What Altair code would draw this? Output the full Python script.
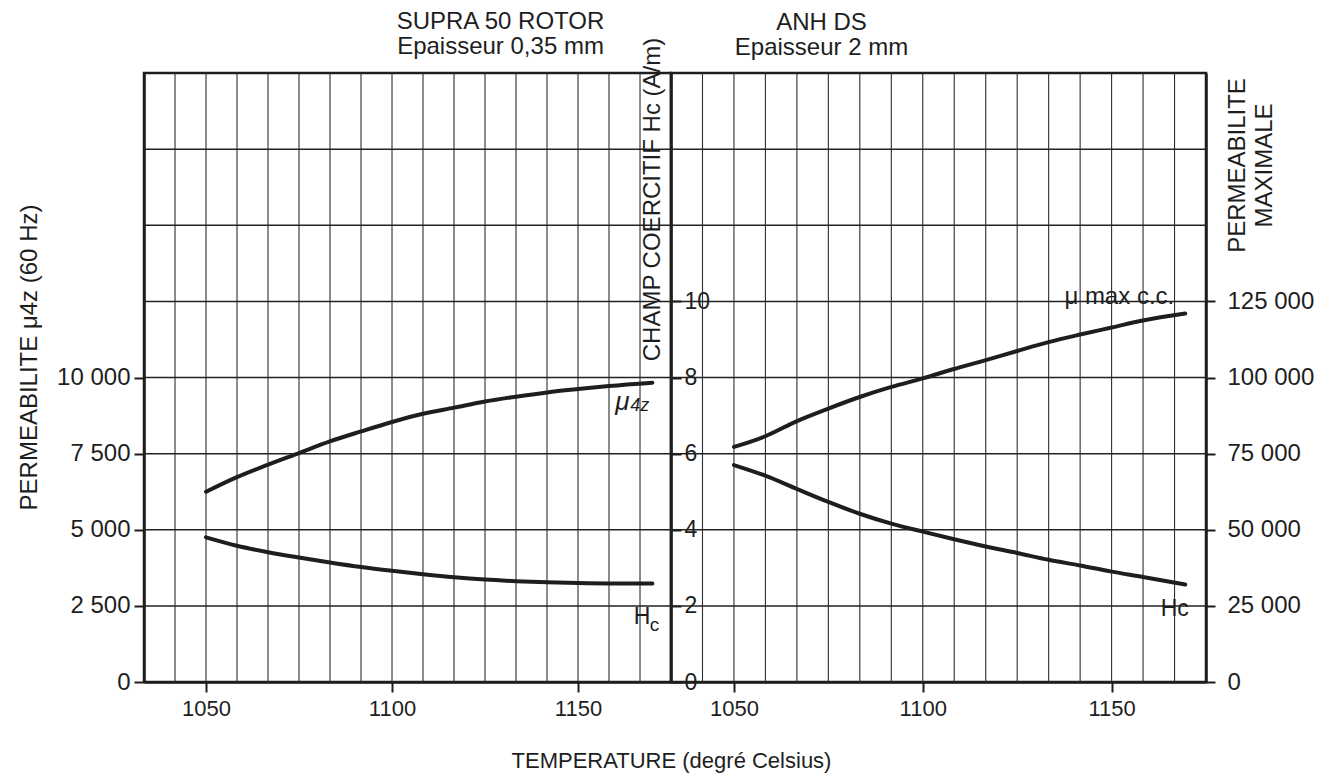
import altair as alt
import pandas as pd

FONT = "Liberation Sans"
INK = "#1e1e1e"

# ---------------- data ----------------
# x-axis (temperature, degree Celsius)
X_DOMAIN = [1033.33, 1175]
T_TICKS = [1050, 1100, 1150]
GRID_T = [1041.67, 1050, 1058.33, 1066.67, 1075, 1083.33, 1091.67, 1100,
          1108.33, 1116.67, 1125, 1133.33, 1141.67, 1150, 1158.33, 1166.67]

# left panel : SUPRA 50 ROTOR
T_LEFT = [1050, 1058.3, 1066.7, 1075, 1083.3, 1091.7, 1100, 1108.3,
          1116.7, 1125, 1133.3, 1141.7, 1150, 1158.3, 1170]
MU4Z = [6250, 6730, 7140, 7520, 7900, 8230, 8540, 8810,
        9010, 9210, 9370, 9510, 9620, 9720, 9830]
HC_LEFT = [3.80, 3.58, 3.41, 3.27, 3.14, 3.02, 2.92, 2.83,
           2.75, 2.69, 2.65, 2.62, 2.60, 2.59, 2.59]

# right panel : ANH DS
T_RIGHT = [1050, 1058.3, 1066.7, 1075, 1083.3, 1091.7, 1100, 1108.3,
           1116.7, 1125, 1133.3, 1141.7, 1150, 1158.3, 1169.5]
MUMAX = [77200, 80700, 85700, 89800, 93600, 96900, 99700, 102800,
         105700, 108700, 111600, 114100, 116400, 118700, 121000]
HC_RIGHT = [5.70, 5.42, 5.07, 4.73, 4.42, 4.16, 3.95, 3.75,
            3.56, 3.39, 3.21, 3.06, 2.90, 2.76, 2.56]

# y scales and tick values
MU4Z_DOMAIN = [0, 20000]
MU4Z_TICKS = [0, 2500, 5000, 7500, 10000]
MU4Z_GRID = [2500, 5000, 7500, 10000, 12500, 15000, 17500]
HC_DOMAIN = [0, 16]
HC_TICKS = [0, 2, 4, 6, 8, 10]
MUMAX_DOMAIN = [0, 200000]
MUMAX_TICKS = [0, 25000, 50000, 75000, 100000, 125000]
MUMAX_GRID = [25000, 50000, 75000, 100000, 125000, 150000, 175000]

# curve labels (position in data units)
LBL_MU4Z = {"t": 1160, "v": 9200}
LBL_HC_LEFT = {"t": 1165, "v": 1.70}
LBL_MUMAX = {"t": 1137.5, "v": 126300}
LBL_HC_RIGHT = {"t": 1163.0, "v": 24000}

W_L, W_R, H = 527, 535, 609

SPACED = ("datum.value >= 1000 ? floor(datum.value / 1000) + ' ' + "
          "format(datum.value % 1000, '03d') : '' + datum.value")


def xdef(with_title):
    kw = dict(values=T_TICKS, format="d", labelFontSize=22, tickSize=10,
              tickWidth=2, domainWidth=2.5, labelPadding=6, grid=False)
    if with_title:
        kw.update(title="TEMPERATURE (degré Celsius)", titleX=W_L, titleY=78,
                  titleAlign="center", titleBaseline="middle",
                  titleFontSize=22, titleFontWeight="normal")
    else:
        kw.update(title=None)
    return alt.X("t:Q", scale=alt.Scale(domain=X_DOMAIN, nice=False, zero=False),
                 axis=alt.Axis(**kw))


def grid_layers(xd, yd, yvals):
    vg = alt.Chart(pd.DataFrame({"t": GRID_T})).mark_rule(
        color="#2e2e2e", strokeWidth=1.1).encode(x=xd)
    hg = alt.Chart(pd.DataFrame({"v": yvals})).mark_rule(
        color="#222222", strokeWidth=1.5).encode(y=yd)
    return vg, hg


def curve(t, vals, field, xd, yd):
    df = pd.DataFrame({"t": t, field: vals})
    return alt.Chart(df).mark_line(color=INK, strokeWidth=4, strokeCap="round",
                                   interpolate="monotone").encode(x=xd, y=yd)


def label(pos, field, text, xd, yd, size, dx=0, dy=0, italic=False):
    df = pd.DataFrame({"t": [pos["t"]], field: [pos["v"]]})
    return alt.Chart(df).mark_text(text=text, align="left", baseline="middle",
                                   font=FONT, fontSize=size, color=INK, dx=dx, dy=dy,
                                   fontStyle="italic" if italic else "normal"
                                   ).encode(x=xd, y=yd)


# ---------------- left panel ----------------
xl = xdef(True)
y_mu4z = alt.Y("v:Q", scale=alt.Scale(domain=MU4Z_DOMAIN, nice=False),
               axis=alt.Axis(values=MU4Z_TICKS, labelExpr=SPACED, orient="left",
                             title="PERMEABILITE  μ4z  (60 Hz)", titleAngle=270,
                             titleX=-108, titleY=284, titleAlign="center",
                             titleBaseline="alphabetic", titleFontSize=24,
                             titleFontWeight="normal", labelFontSize=24,
                             tickSize=10, tickWidth=2, domainWidth=2.5,
                             labelPadding=4, grid=False))
y_hc_l = alt.Y("h:Q", scale=alt.Scale(domain=HC_DOMAIN, nice=False),
               axis=alt.Axis(values=HC_TICKS, orient="right",
                             title="CHAMP COERCITIF Hc (A/m)", titleAngle=270,
                             titleX=-7, titleY=126, titleAlign="center",
                             titleBaseline="bottom", titleFontSize=24,
                             titleFontWeight="normal", labelFontSize=23,
                             tickSize=10, tickWidth=2, domainWidth=2.5,
                             labelPadding=3, grid=False))

vg_l, hg_l = grid_layers(xl, y_mu4z, MU4Z_GRID)
mu_group = alt.layer(
    vg_l, hg_l,
    curve(T_LEFT, MU4Z, "v", xl, y_mu4z),
    label(LBL_MU4Z, "v", "μ", xl, y_mu4z, 26, italic=True),
    label(LBL_MU4Z, "v", "4z", xl, y_mu4z, 18, dx=15, dy=4, italic=True),
)
hc_group_l = alt.layer(
    curve(T_LEFT, HC_LEFT, "h", xl, y_hc_l),
    label(LBL_HC_LEFT, "h", "H", xl, y_hc_l, 23),
    label(LBL_HC_LEFT, "h", "c", xl, y_hc_l, 19, dx=16, dy=8),
)
left = alt.layer(mu_group, hc_group_l).resolve_scale(y="independent").properties(
    width=W_L, height=H,
    title=alt.TitleParams(["SUPRA 50 ROTOR", "Epaisseur 0,35 mm"], fontSize=24,
                          fontWeight="normal", font=FONT, color=INK,
                          anchor="middle", dx=93, offset=-22, lineHeight=25))

# ---------------- right panel ----------------
xr = xdef(False)
y_mumax = alt.Y("v:Q", scale=alt.Scale(domain=MUMAX_DOMAIN, nice=False),
                axis=alt.Axis(values=MUMAX_TICKS, labelExpr=SPACED, orient="right",
                              title=["PERMEABILITE", "MAXIMALE"], titleAngle=270,
                              titleX=19, titleY=92, titleAlign="center",
                              titleBaseline="top", titleFontSize=24,
                              titleFontWeight="normal", titleLineHeight=27,
                              labelFontSize=24, tickSize=9, tickWidth=2,
                              domainWidth=2.5, labelPadding=12, grid=False))
y_hc_r = alt.Y("h:Q", scale=alt.Scale(domain=HC_DOMAIN, nice=False), axis=None)

vg_r, hg_r = grid_layers(xr, y_mumax, MUMAX_GRID)
mumax_group = alt.layer(
    vg_r, hg_r,
    curve(T_RIGHT, MUMAX, "v", xr, y_mumax),
    label(LBL_MUMAX, "v", "μ  max  c.c.", xr, y_mumax, 24),
    label(LBL_HC_RIGHT, "v", "Hc", xr, y_mumax, 23),
)
hc_group_r = curve(T_RIGHT, HC_RIGHT, "h", xr, y_hc_r)
right = alt.layer(mumax_group, hc_group_r).resolve_scale(y="independent").properties(
    width=W_R, height=H,
    title=alt.TitleParams(["ANH DS", "Epaisseur 2 mm"], fontSize=24,
                          fontWeight="normal", font=FONT, color=INK,
                          anchor="middle", dx=-117, offset=12, lineHeight=25))

chart = alt.hconcat(left, right, spacing=0, bounds="flush").properties(
    padding={"left": 7, "top": 0, "right": 4, "bottom": 0},
    background="white",
).configure_view(stroke=INK, strokeWidth=2.5).configure_axis(
    labelFont=FONT, titleFont=FONT, labelColor=INK, titleColor=INK,
    tickColor=INK, domainColor=INK,
)

chart.save("out.html", embed_options={"renderer": "svg", "actions": False})
